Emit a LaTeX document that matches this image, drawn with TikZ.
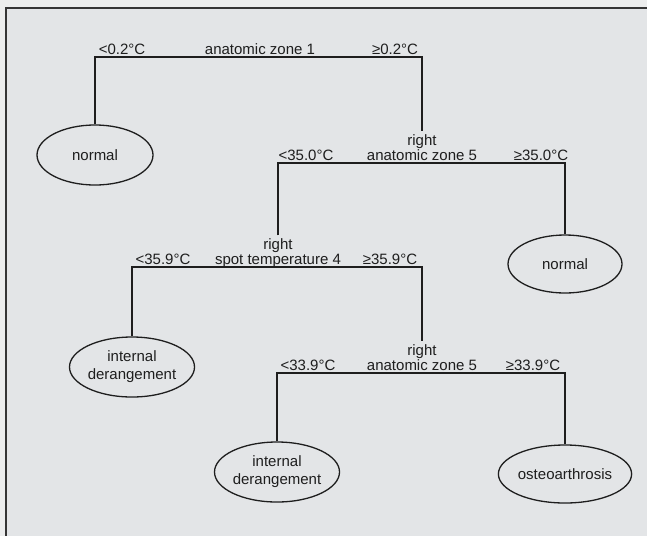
\documentclass[tikz,border=0pt]{standalone}
\usepackage{fontspec}
\setmainfont{Liberation Sans}
\usetikzlibrary{shapes.geometric}
\definecolor{outerbg}{HTML}{ECEDED}
\definecolor{innerbg}{HTML}{E3E5E7}
\definecolor{ink}{HTML}{1E1E1E}
\begin{document}
\begin{tikzpicture}[x=1pt,y=-1pt,
  lbl/.style={font=\fontsize{15}{18}\selectfont, text=ink, inner sep=0pt, anchor=base},
  rlbl/.style={font=\fontsize{15}{18}\selectfont, text=ink, inner xsep=0pt, inner ysep=2.5pt, anchor=base},
  leaf/.style={ellipse, draw=ink, line width=1.3pt, font=\fontsize{15}{18}\selectfont, text=ink, align=center, inner sep=0pt, minimum width=116pt, minimum height=60pt},
  branch/.style={draw=ink, line width=1.1pt},
  framel/.style={draw=ink!90, line width=1.8pt}]
\useasboundingbox (0,0) rectangle (647,536);
\fill[outerbg] (0,0) rectangle (647,536);
\fill[innerbg] (6,8) rectangle (647,536);
\draw[framel] (647,8) -- (6,8) -- (6,536);

% leaves
\node[leaf] (n1) at (95,155) {normal};
\node[leaf, minimum height=58pt, minimum width=114pt] (n2) at (565,264) {normal};
\node[leaf] (d1) at (132,367) {internal\\derangement};
\node[leaf] (d2) at (277,472) {internal\\derangement};
\node[leaf, minimum height=58pt, minimum width=115pt] (o1) at (565,474) {osteoarthrosis};

% split 1
\node[lbl] (s1l) at (122,54.5) {<0.2°C};
\node[lbl] (s1n) at (260,54.5) {anatomic zone 1};
\node[lbl] (s1r) at (395,54.5) {≥0.2°C};
\coordinate (c1l) at (95,57);
\coordinate (c1r) at (422,57);

% split 2
\node[rlbl] (r2) at (422,145) {right};
\node[lbl] (s2l) at (306,160.5) {<35.0°C};
\node[lbl] (s2n) at (422,160.5) {anatomic zone 5};
\node[lbl] (s2r) at (541,160.5) {≥35.0°C};
\coordinate (c2l) at (278,163);
\coordinate (c2r) at (565,163);

% split 3
\node[rlbl] (r3) at (278,249) {right};
\node[lbl] (s3l) at (163,264.5) {<35.9°C};
\node[lbl] (s3n) at (278,264.5) {spot temperature 4};
\node[lbl] (s3r) at (390,264.5) {≥35.9°C};
\coordinate (c3l) at (132,267);
\coordinate (c3r) at (422,267);

% split 4
\node[rlbl] (r4) at (422,355) {right};
\node[lbl] (s4l) at (308,370.5) {<33.9°C};
\node[lbl] (s4n) at (422,370.5) {anatomic zone 5};
\node[lbl] (s4r) at (533,370.5) {≥33.9°C};
\coordinate (c4l) at (277,373);
\coordinate (c4r) at (565,373);

% connectors
\draw[branch] (n1.north) -- (c1l) -- (c1r) -- (r2.north);
\draw[branch] (r3.north) -- (c2l) -- (c2r) -- (n2.north);
\draw[branch] (d1.north) -- (c3l) -- (c3r) -- (r4.north);
\draw[branch] (d2.north) -- (c4l) -- (c4r) -- (o1.north);
\end{tikzpicture}
\end{document}
